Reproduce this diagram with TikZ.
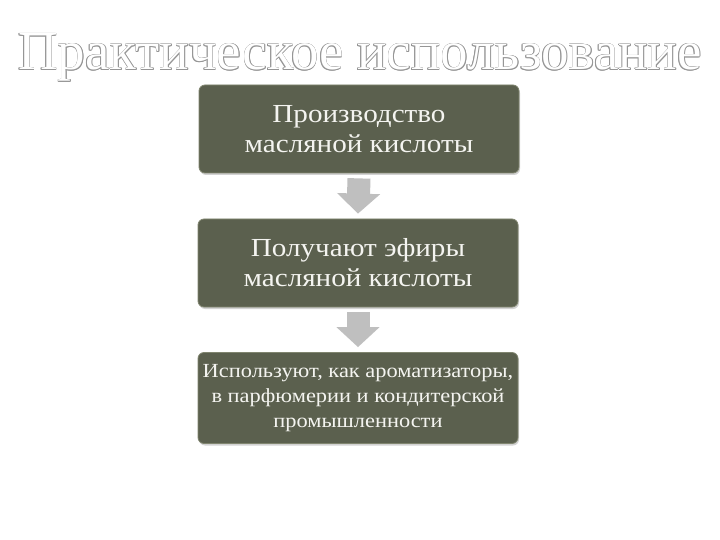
\documentclass[tikz,border=0pt]{standalone}
\usepackage{fontspec}
\setmainfont{Liberation Serif}
\newfontfamily\boxfont[FakeStretch=1.12]{Liberation Serif}
\usetikzlibrary{arrows.meta,shadows}
\definecolor{boxcol}{HTML}{5B604E}
\definecolor{boxedge}{HTML}{80856F}
\definecolor{arrcol}{HTML}{BFBFBF}
\definecolor{titleline}{HTML}{969696}
\definecolor{txtcol}{HTML}{F4F4F0}
\newcommand\otltext[1]{\leavevmode
  \rlap{\color{titleline}\kern-0.65pt#1}%
  \rlap{\color{titleline}\kern0.65pt#1}%
  \rlap{\color{titleline}\raisebox{0.65pt}{#1}}%
  \rlap{\color{titleline}\raisebox{-0.65pt}{#1}}%
  \rlap{\color{titleline}\kern0.5pt\raisebox{-0.5pt}{#1}}%
  \rlap{\color{titleline}\kern-0.5pt\raisebox{0.5pt}{#1}}%
  \rlap{\color{titleline}\kern0.5pt\raisebox{0.5pt}{#1}}%
  \rlap{\color{titleline}\kern-0.5pt\raisebox{-0.5pt}{#1}}%
  {\color{white}#1}}
\tikzset{
  stepbox/.style={draw=boxedge, line width=0.8pt, fill=boxcol, rounded corners=6pt,
    minimum width=320pt, inner sep=0pt, align=center, text=txtcol,
    drop shadow={shadow xshift=1pt, shadow yshift=-2pt, opacity=0.35}},
  blockarrow/.style={line width=23pt, color=arrcol,
    -{Triangle[width=42pt,length=20pt]}},
}
\begin{document}
\begin{tikzpicture}[x=1pt,y=1pt]
\useasboundingbox[fill=white] (0,0) rectangle (720,-540);
\node[anchor=base, inner sep=0pt, font=\fontsize{55}{60}\selectfont] (title) at (360,-70)
  {\otltext{Практическое использование}};
\node[stepbox, minimum height=88pt, font=\boxfont\fontsize{26}{30}\selectfont] (b1) at (359,-129)
  {Производство\\масляной кислоты};
\node[stepbox, minimum height=88pt, font=\boxfont\fontsize{26}{30}\selectfont] (b2) at (358,-263)
  {Получают эфиры\\масляной кислоты};
\node[stepbox, minimum height=91pt, font=\boxfont\fontsize{20}{25}\selectfont] (b3) at (358,-398)
  {Используют, как ароматизаторы,\\в парфюмерии и кондитерской\\промышленности};
\draw[blockarrow] ([yshift=-5pt]b1.south) -- ([yshift=5pt]b2.north);
\draw[blockarrow] ([yshift=-5pt]b2.south) -- ([yshift=5pt]b3.north);
\end{tikzpicture}
\end{document}
